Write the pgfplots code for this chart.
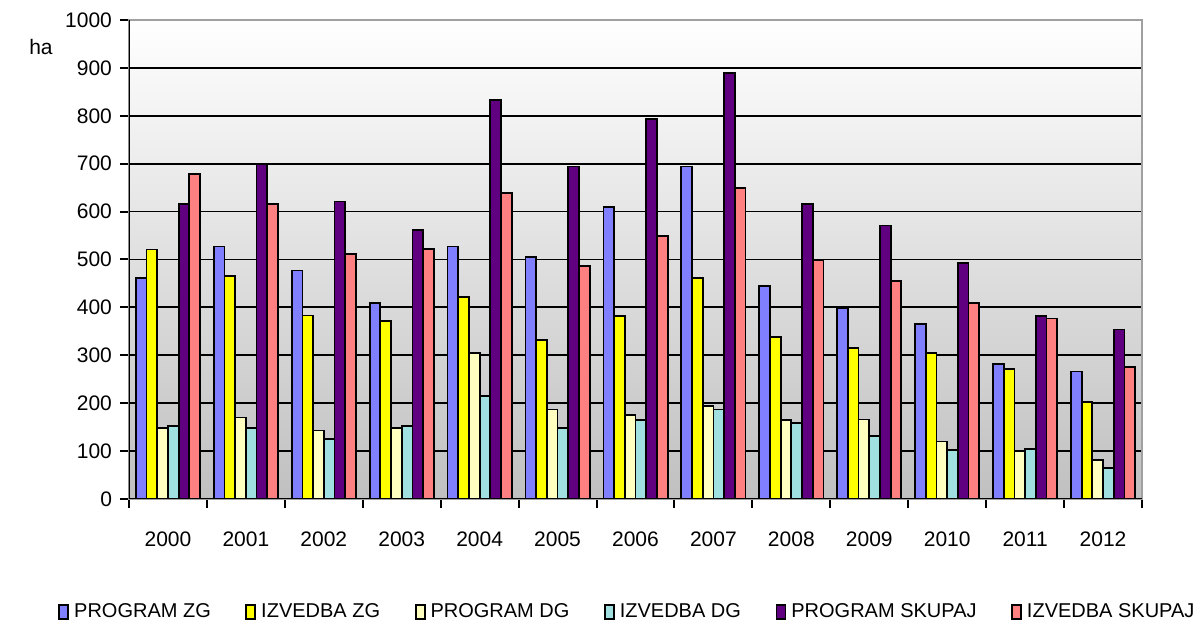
\documentclass[border=0pt]{standalone}
\usepackage{fontspec}
\setmainfont{Liberation Sans}
\usepackage{pgfplots}
\usepackage{pgfplotstable}
\pgfplotsset{compat=1.18}
\definecolor{cpzg}{HTML}{8080FF}
\definecolor{cizg}{HTML}{FFFF00}
\definecolor{cpdg}{HTML}{FFFFC0}
\definecolor{cidg}{HTML}{A0E0E0}
\definecolor{cps}{HTML}{600080}
\definecolor{cis}{HTML}{FF8080}
\definecolor{cbg}{HTML}{C0C0C0}
\definecolor{cframe}{HTML}{A0A0A0}
\pgfplotstableread{
x pzg izg pdg idg ps is
0 461 521 148 153 616 678
1 527 466 170 148 699 616
2 477 383 143 126 621 511
3 410 372 148 153 562 522
4 527 421 304 215 833 638
5 505 332 187 149 694 487
6 610 382 175 165 793 549
7 694 461 194 187 890 649
8 445 338 165 158 616 499
9 398 316 166 132 571 455
10 365 304 120 102 493 410
11 282 271 99 104 382 377
12 266 203 81 65 354 276
}\data
\begin{document}
\begin{tikzpicture}
\useasboundingbox (-64.5pt,-65.5pt) rectangle (532.5pt,249.5pt);
\begin{axis}[
  scale only axis, width=506.5pt, height=239.5pt,
  ymin=0, ymax=1000, ytick={0,100,...,1000},
  xmin=-0.5, xmax=12.5,
  xtick={0,...,12},
  xticklabels={2000,2001,2002,2003,2004,2005,2006,2007,2008,2009,2010,2011,2012},
  minor xtick={-0.5,0.5,...,12.5},
  major x tick style={draw=none},
  tick pos=left, tick align=outside,
  major tick length=4.5pt, minor tick length=4.5pt,
  tick style={black, line width=1pt},
  /pgf/number format/1000 sep={},
  /pgf/number format/assume math mode=true,
  ticklabel style={font=\fontsize{10.5}{12}\selectfont},
  yticklabel style={xshift=-0.5pt},
  xticklabel style={yshift=-8.5pt},
  ymajorgrids, grid style={black, line width=0.9pt},
  axis line style={draw=cframe, line width=1pt},
  axis background/.style={shade, top color=white, bottom color=cbg},
  ybar=0pt, bar width=5.35pt,
  every axis plot/.append style={draw=black, line width=0.9pt},
  legend columns=6,
  legend style={at={(0.493,-0.236)}, anchor=center, draw=none, fill=none,
    font=\fontsize{10}{11}\selectfont,
    /tikz/every even column/.append style={column sep=15.3pt},
    /tikz/every odd column/.append style={column sep=0.5pt}},
  legend image code/.code={\draw[#1, draw=black, line width=0.9pt] (0pt,-3.5pt) rectangle (4.5pt,3.5pt);},
]
\addplot[fill=cpzg] table[x=x,y=pzg]{\data};
\addplot[fill=cizg] table[x=x,y=izg]{\data};
\addplot[fill=cpdg] table[x=x,y=pdg]{\data};
\addplot[fill=cidg] table[x=x,y=idg]{\data};
\addplot[fill=cps] table[x=x,y=ps]{\data};
\addplot[fill=cis] table[x=x,y=is]{\data};
\legend{PROGRAM ZG, IZVEDBA ZG, PROGRAM DG, IZVEDBA DG, PROGRAM SKUPAJ, IZVEDBA SKUPAJ}
\draw[black, line width=1.2pt] (rel axis cs:0,1) -- (rel axis cs:0,0) -- (rel axis cs:1,0);
\end{axis}
\node[font=\fontsize{10.5}{12}\selectfont] at (-44pt,226pt) {ha};
\end{tikzpicture}
\end{document}
